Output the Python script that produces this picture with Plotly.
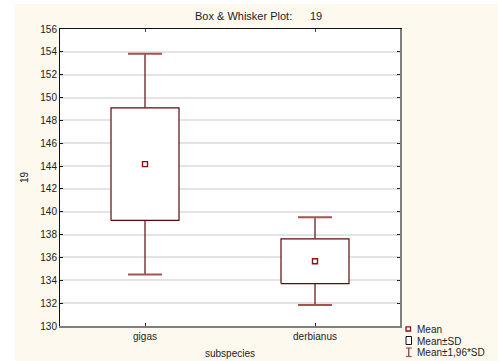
import plotly.graph_objects as go

# Data: per-subspecies mean and standard deviation of variable "19"
categories = ["gigas", "derbianus"]
means = [144.17, 135.67]
sds = [4.93, 1.96]
z_factor = 1.96

y_ticks = list(range(130, 157, 2))

BOX_COLOR = "#5c0a0a"
STEM_COLOR = "#5c0a0a"
CAP_COLOR = "#a65252"
MEAN_COLOR = "#8b1010"
CREAM = "#fdf9ef"

box_half = 0.2
cap_half = 0.1

fig = go.Figure()

for i, (m, s) in enumerate(zip(means, sds)):
    q1, q3 = m - s, m + s
    lo, hi = m - z_factor * s, m + z_factor * s
    # whisker stems
    fig.add_trace(go.Scatter(
        x=[i, i, None, i, i], y=[q3, hi, None, lo, q1],
        mode="lines", line=dict(color=STEM_COLOR, width=1.2),
        hoverinfo="skip"))
    # whisker caps
    fig.add_trace(go.Scatter(
        x=[i - cap_half, i + cap_half, None, i - cap_half, i + cap_half],
        y=[hi, hi, None, lo, lo],
        mode="lines", line=dict(color=CAP_COLOR, width=2),
        hoverinfo="skip"))
    # mean ± SD box
    fig.add_trace(go.Scatter(
        x=[i - box_half, i + box_half, i + box_half, i - box_half, i - box_half],
        y=[q1, q1, q3, q3, q1],
        mode="lines", fill="toself", fillcolor="white",
        line=dict(color=BOX_COLOR, width=1.2), hoverinfo="skip"))
    # mean marker
    fig.add_trace(go.Scatter(
        x=[i], y=[m], mode="markers",
        marker=dict(symbol="square", size=5, color="white",
                    line=dict(color=MEAN_COLOR, width=1.4)),
        hoverinfo="skip"))

# helper trace so the mirrored right/top axes are drawn
fig.add_trace(go.Scatter(x=[None], y=[None], xaxis="x2", yaxis="y2",
                         showlegend=False, hoverinfo="skip"))

y_range = [130, 156]
x_range = [-0.5, 1.5]

fig.update_layout(
    width=498, height=361,
    margin=dict(l=60, r=98, t=29, b=35),
    paper_bgcolor=CREAM, plot_bgcolor="white",
    showlegend=False,
    font=dict(family="Liberation Sans, Arial, sans-serif", size=10, color="#222222"),
    xaxis=dict(range=x_range, tickvals=list(range(len(categories))), ticktext=categories,
               showgrid=False, zeroline=False, showline=True, linecolor="#7f7f7f",
               linewidth=2, ticks="inside", ticklen=3, tickcolor="#222222", fixedrange=True),
    yaxis=dict(range=y_range, tickvals=y_ticks, showgrid=True, gridcolor="#e4e4e4",
               gridwidth=2, zeroline=False, showline=True, linecolor="#111111",
               linewidth=1, ticks="inside", ticklen=3, tickcolor="#111111", fixedrange=True),
    xaxis2=dict(range=x_range, overlaying="x", side="top", tickvals=list(range(len(categories))),
                showticklabels=False, showgrid=False, zeroline=False, showline=True,
                linecolor="#111111", linewidth=1, ticks="inside", ticklen=3,
                tickcolor="#444444", fixedrange=True),
    yaxis2=dict(range=y_range, overlaying="y", side="right", tickvals=y_ticks,
                showticklabels=False, showgrid=False, zeroline=False, showline=True,
                linecolor="#7f7f7f", linewidth=2, ticks="inside", ticklen=3,
                tickcolor="#222222", fixedrange=True),
)

# plot-area geometry in pixels, used to place paper-referenced decorations
PL, PR, PT, PB = 60, 400, 29, 326


def px_x(px):
    return (px - PL) / (PR - PL)


def px_y(py):
    return (PB - py) / (PB - PT)


shapes = [
    # white strips around the cream panel
    dict(type="rect", xref="paper", yref="paper", x0=px_x(0), x1=px_x(15),
         y0=px_y(361), y1=px_y(0), fillcolor="white", line=dict(width=0), layer="below"),
    dict(type="rect", xref="paper", yref="paper", x0=px_x(0), x1=px_x(498),
         y0=px_y(4), y1=px_y(0), fillcolor="white", line=dict(width=0), layer="below"),
    # legend keys
    dict(type="rect", xref="paper", yref="paper", x0=px_x(406), x1=px_x(410.5),
         y0=px_y(331), y1=px_y(326.8), fillcolor="white",
         line=dict(color=MEAN_COLOR, width=1.3)),
    dict(type="rect", xref="paper", yref="paper", x0=px_x(406), x1=px_x(411.5),
         y0=px_y(344.5), y1=px_y(336.5), fillcolor="white",
         line=dict(color="#111111", width=1)),
    dict(type="line", xref="paper", yref="paper", x0=px_x(408.8), x1=px_x(408.8),
         y0=px_y(348), y1=px_y(356.5), line=dict(color=BOX_COLOR, width=1)),
    dict(type="line", xref="paper", yref="paper", x0=px_x(406), x1=px_x(411.7),
         y0=px_y(348), y1=px_y(348), line=dict(color=CAP_COLOR, width=1.2)),
    dict(type="line", xref="paper", yref="paper", x0=px_x(406), x1=px_x(411.7),
         y0=px_y(356.5), y1=px_y(356.5), line=dict(color=CAP_COLOR, width=1.2)),
]
fig.update_layout(shapes=shapes)

annotations = [
    dict(text="Box & Whisker Plot:", x=px_x(193), y=px_y(16), xanchor="left", yanchor="middle",
         font=dict(size=11)),
    dict(text="19", x=px_x(308), y=px_y(16), xanchor="left", yanchor="middle",
         font=dict(size=11)),
    dict(text="19", x=px_x(24), y=px_y(177), xanchor="center", yanchor="middle", textangle=-90),
    dict(text="subspecies", x=px_x(230), y=px_y(353), xanchor="center", yanchor="middle"),
    dict(text="Mean", x=px_x(415), y=px_y(329), xanchor="left", yanchor="middle"),
    dict(text="Mean±SD", x=px_x(415), y=px_y(341), xanchor="left", yanchor="middle"),
    dict(text="Mean±1,96*SD", x=px_x(415), y=px_y(352.5), xanchor="left", yanchor="middle"),
]
for a in annotations:
    a.update(xref="paper", yref="paper", showarrow=False)
fig.update_layout(annotations=annotations)

fig.write_html("out.html")
